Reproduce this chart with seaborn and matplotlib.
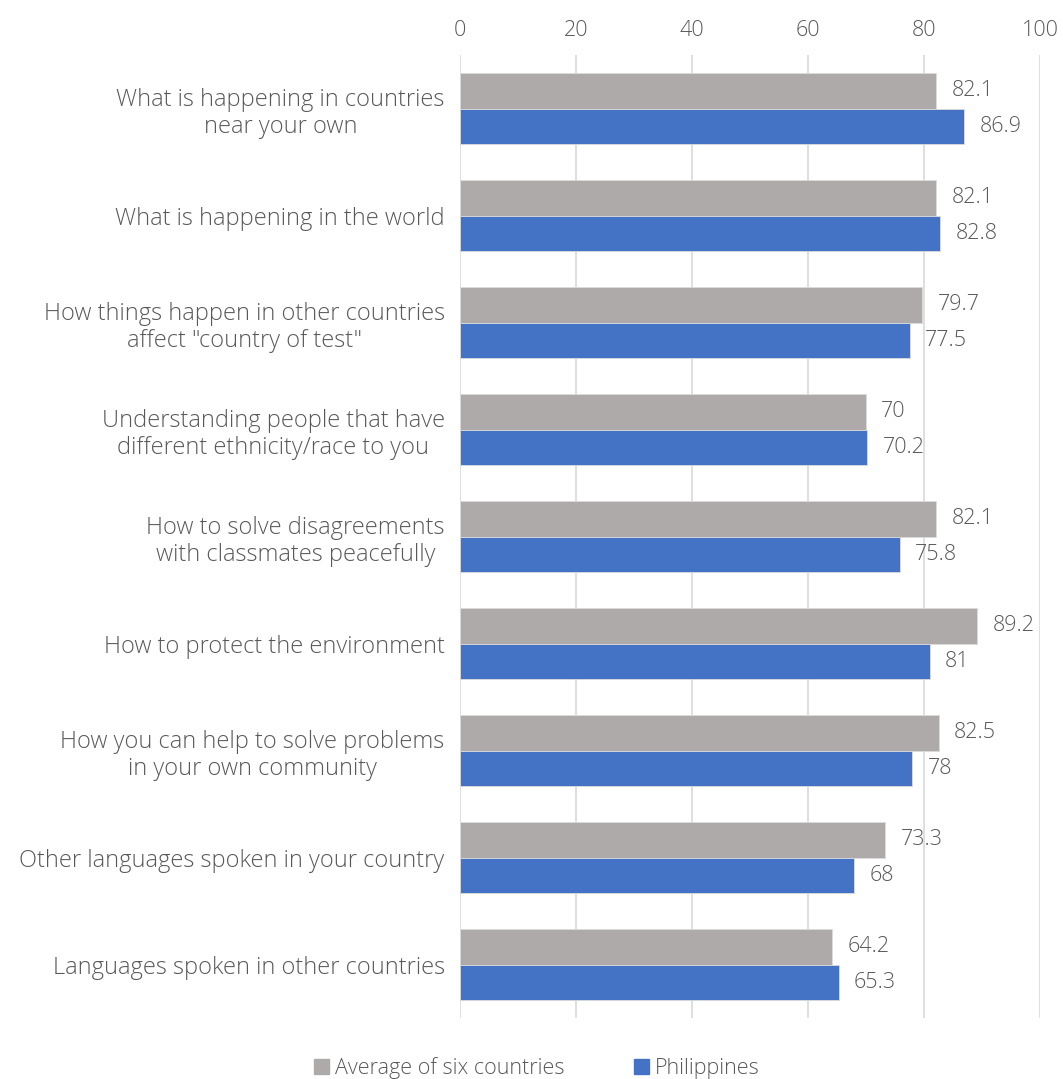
import pandas as pd
import matplotlib.pyplot as plt
import seaborn as sns

# === DATOS ===
categorias = [
    "What is happening in countries\nnear your own",
    "What is happening in the world",
    "How things happen in other countries\naffect \"country of test\"",
    "Understanding people that have\ndifferent ethnicity/race to you",
    "How to solve disagreements\nwith classmates peacefully",
    "How to protect the environment",
    "How you can help to solve problems\nin your own community",
    "Other languages spoken in your country",
    "Languages spoken in other countries",
]
promedio_seis = [82.1, 82.1, 79.7, 70, 82.1, 89.2, 82.5, 73.3, 64.2]
filipinas = [86.9, 82.8, 77.5, 70.2, 75.8, 81, 78, 68, 65.3]
series = ["Average of six countries", "Philippines"]
colores = ["#AEAAAA", "#4472C4"]
ticks_x = [0, 20, 40, 60, 80, 100]

# === CONFIGURACION ===
sns.set_theme(style="white")
plt.rcParams["font.family"] = ["Open Sans", "DejaVu Sans"]
plt.rcParams["font.weight"] = "light"
texto = "#595959"

df = pd.DataFrame({
    "categoria": categorias * 2,
    "serie": [series[0]] * len(categorias) + [series[1]] * len(categorias),
    "valor": promedio_seis + filipinas,
})

fig = plt.figure(figsize=(10.63, 10.79), dpi=100)
ax = fig.add_axes([0.4327, 0.0565, 0.5457, 0.8925])

sns.barplot(data=df, y="categoria", x="valor", hue="serie", palette=colores,
            saturation=1, orient="h", width=0.67, ax=ax, legend=False,
            edgecolor="#dcdcdc", linewidth=0.6)

for cont in ax.containers:
    ax.bar_label(cont, fmt="%g", padding=11, fontsize=15.5, color=texto)

ax.set_xlim(0, 100)
ax.set_xticks(ticks_x)
ax.xaxis.tick_top()
ax.tick_params(axis="x", length=0, labelsize=15.5, labelcolor=texto, pad=10)
ax.tick_params(axis="y", length=0, labelsize=17, labelcolor=texto, pad=11)
for lbl in ax.get_yticklabels():
    lbl.set_multialignment("center")
ax.grid(axis="x", color="#d9d9d9", linewidth=1.2)
ax.set_axisbelow(True)
for s in ax.spines.values():
    s.set_visible(False)
ax.set_xlabel("")
ax.set_ylabel("")

handles = [plt.Rectangle((0, 0), 1, 1, color=c) for c in colores]
fig.legend(handles, series, loc="center", bbox_to_anchor=(0.505, 0.01),
           ncol=2, frameon=False, fontsize=15.5, labelcolor=texto,
           handlelength=0.7, handleheight=0.7, handletextpad=0.3,
           columnspacing=3.2)

fig.savefig("out.png", dpi=100)
